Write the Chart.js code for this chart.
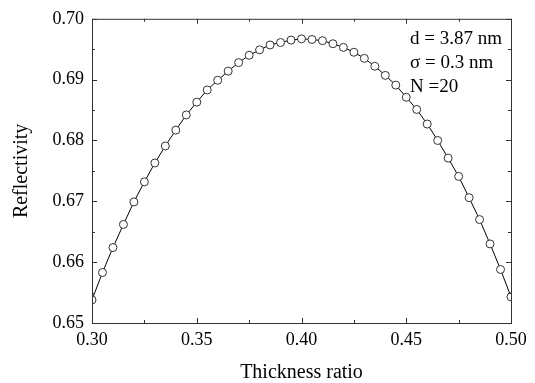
<!DOCTYPE html>
<html>
<head>
<meta charset="utf-8">
<script src="https://cdn.jsdelivr.net/npm/chart.js@4/dist/chart.umd.min.js"></script>
<style>
    html, body { margin: 0; padding: 0; background: #fff; }
    #wrap { width: 535px; height: 383px; }
</style>
</head>
<body>
<div id="wrap"><canvas id="reflChart"></canvas></div>
<script>
// Data
const thickness = [
    0.300, 0.305, 0.310, 0.315, 0.320, 0.325, 0.330, 0.335, 0.340, 0.345,
    0.350, 0.355, 0.360, 0.365, 0.370, 0.375, 0.380, 0.385, 0.390, 0.395,
    0.400, 0.405, 0.410, 0.415, 0.420, 0.425, 0.430, 0.435, 0.440, 0.445,
    0.450, 0.455, 0.460, 0.465, 0.470, 0.475, 0.480, 0.485, 0.490, 0.495,
    0.500
];
const reflectivity = [
    0.6538, 0.6583, 0.6624, 0.6662, 0.6699, 0.6732, 0.6763, 0.6791, 0.6817, 0.6842,
    0.6863, 0.6883, 0.6899, 0.6914, 0.6928, 0.6940, 0.6949, 0.6957, 0.6961, 0.6965,
    0.6967, 0.6966, 0.6964, 0.6959, 0.6953, 0.6945, 0.6935, 0.6922, 0.6907, 0.6891,
    0.6871, 0.6851, 0.6827, 0.6800, 0.6771, 0.6741, 0.6706, 0.6670, 0.6630, 0.6588,
    0.6543
];
const xRange = [0.30, 0.50];
const yRange = [0.65, 0.70];
const annotation = ['d = 3.87 nm', 'σ = 0.3 nm', 'N =20'];

const SERIF = '"Liberation Serif", "Times New Roman", serif';
const AXIS_COLOR = '#333';

// Box frame + inward ticks on all four sides, plus the parameter text
const framePlugin = {
    id: 'frame',
    afterDatasetsDraw(chart) {
        const { ctx, chartArea: a, scales: { x, y } } = chart;
        ctx.save();
        ctx.strokeStyle = AXIS_COLOR;
        ctx.lineWidth = 1;
        ctx.strokeRect(a.left + 0.5, a.top + 0.5, a.right - a.left, a.bottom - a.top);

        const major = 5, minor = 3;
        ctx.beginPath();
        const xt = x.ticks.map(t => t.value);
        xt.forEach((v, i) => {
            const px = Math.round(x.getPixelForValue(v)) + 0.5;
            ctx.moveTo(px, a.bottom); ctx.lineTo(px, a.bottom - major);
            ctx.moveTo(px, a.top); ctx.lineTo(px, a.top + major);
            if (i < xt.length - 1) {
                const mx = Math.round(x.getPixelForValue((v + xt[i + 1]) / 2)) + 0.5;
                ctx.moveTo(mx, a.bottom); ctx.lineTo(mx, a.bottom - minor);
                ctx.moveTo(mx, a.top); ctx.lineTo(mx, a.top + minor);
            }
        });
        const yt = y.ticks.map(t => t.value);
        yt.forEach((v, i) => {
            const py = Math.round(y.getPixelForValue(v)) + 0.5;
            ctx.moveTo(a.left, py); ctx.lineTo(a.left + major, py);
            ctx.moveTo(a.right, py); ctx.lineTo(a.right - major, py);
            if (i < yt.length - 1) {
                const my = Math.round(y.getPixelForValue((v + yt[i + 1]) / 2)) + 0.5;
                ctx.moveTo(a.left, my); ctx.lineTo(a.left + minor, my);
                ctx.moveTo(a.right, my); ctx.lineTo(a.right - minor, my);
            }
        });
        ctx.stroke();

        // parameters, top right corner
        ctx.fillStyle = '#000';
        ctx.font = '19px ' + SERIF;
        ctx.textAlign = 'left';
        ctx.textBaseline = 'alphabetic';
        annotation.forEach((line, i) => {
            ctx.fillText(line, a.right - 101, a.top + 25 + i * 24);
        });
        ctx.restore();
    }
};

new Chart(document.getElementById('reflChart'), {
    type: 'line',
    data: {
        datasets: [{
            data: thickness.map((t, i) => ({ x: t, y: reflectivity[i] })),
            borderColor: '#000',
            borderWidth: 1,
            tension: 0,
            pointRadius: 4,
            pointBorderWidth: 1,
            pointBorderColor: '#333',
            pointBackgroundColor: '#fff',
            clip: 0,
        }]
    },
    options: {
        responsive: true,
        maintainAspectRatio: false,
        animation: false,
        events: [],
        layout: { padding: { top: 16, right: 24, left: 0, bottom: 0 } },
        plugins: { legend: { display: false }, tooltip: { enabled: false } },
        scales: {
            x: {
                type: 'linear',
                min: xRange[0], max: xRange[1],
                border: { display: false },
                grid: { display: false, drawTicks: false },
                ticks: {
                    stepSize: 0.05, padding: 6, color: '#000',
                    font: { family: SERIF, size: 18 },
                    callback: v => v.toFixed(2),
                },
                title: {
                    display: true, text: 'Thickness ratio', color: '#000',
                    font: { family: SERIF, size: 20, lineHeight: 1 },
                    padding: { top: 0, bottom: 0 },
                },
                afterFit: s => { s.height = 60; },
            },
            y: {
                min: yRange[0], max: yRange[1],
                border: { display: false },
                grid: { display: false, drawTicks: false },
                ticks: {
                    stepSize: 0.01, padding: 8, color: '#000',
                    font: { family: SERIF, size: 18 },
                    callback: v => v.toFixed(2),
                },
                title: {
                    display: true, text: 'Reflectivity', color: '#000',
                    font: { family: SERIF, size: 20, lineHeight: 1 },
                    padding: { top: 12, bottom: 0 },
                },
                afterFit: s => { s.width = 92; },
            }
        }
    },
    plugins: [framePlugin]
});
</script>
</body>
</html>
